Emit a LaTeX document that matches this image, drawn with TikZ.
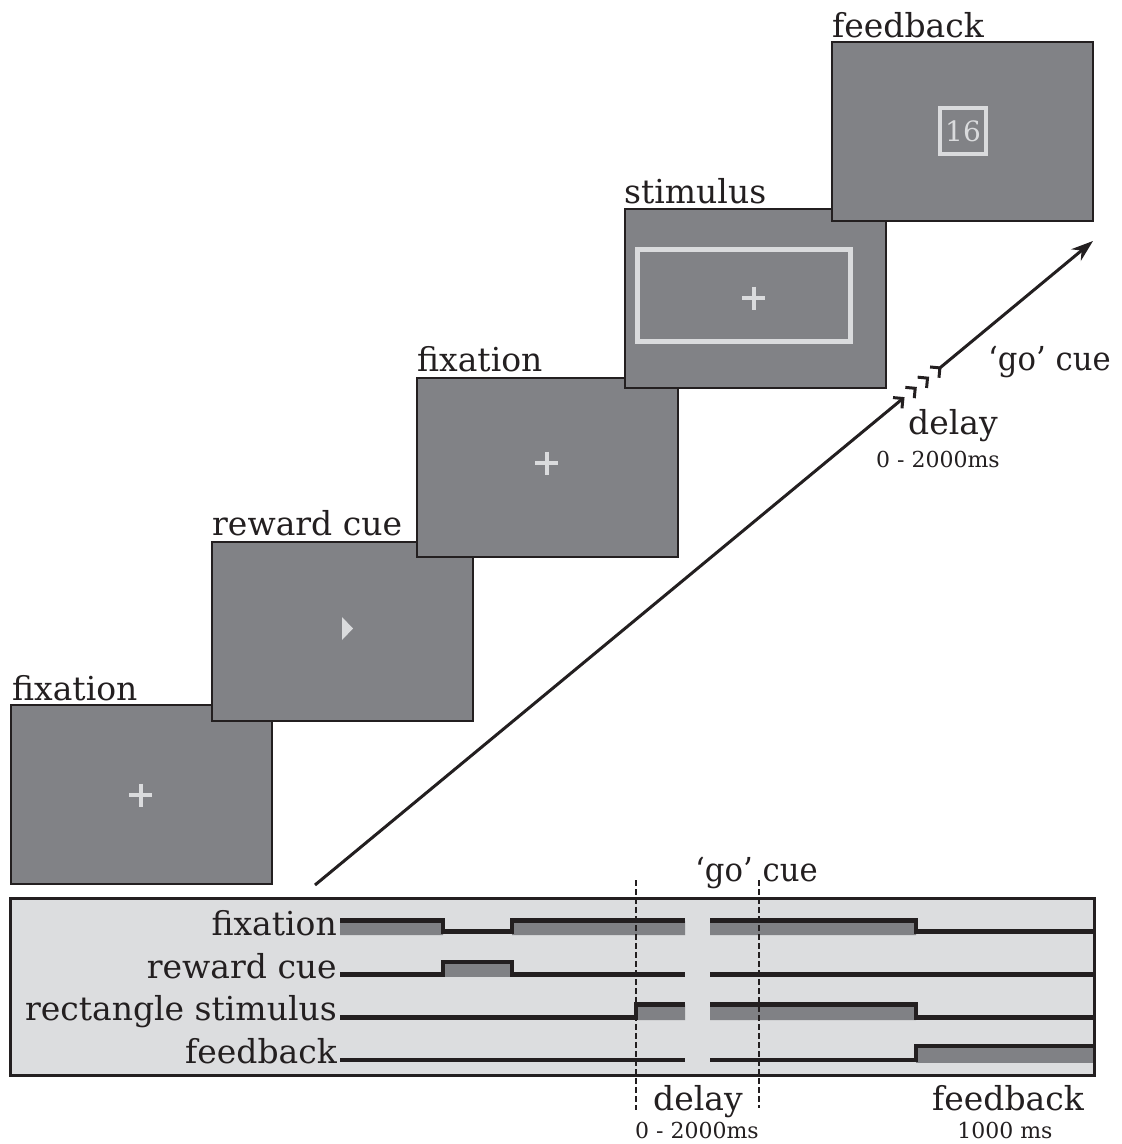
\documentclass[tikz,border=0pt]{standalone}
\usepackage{fontspec}
\setmainfont{DejaVu Serif}
\usetikzlibrary{arrows.meta}
\definecolor{scr}{RGB}{129,130,134}
\definecolor{lite}{RGB}{218,219,221}
\definecolor{panelc}{RGB}{220,221,223}
\definecolor{ink}{RGB}{35,31,32}
\definecolor{sig}{RGB}{128,129,133}
\newcommand{\fsL}{\fontsize{33}{38}\selectfont}
\newcommand{\fsM}{\fontsize{28}{32}\selectfont}
\newcommand{\fsS}{\fontsize{22}{26}\selectfont}
\newcommand{\gocue}{\scalebox{0.93}[1]{‘go’ cue}}
\begin{document}
\begin{tikzpicture}[x=1pt,y=-1pt,
  screen/.style={draw=ink, line width=1.5pt, fill=scr, minimum width=261pt, minimum height=179pt, anchor=north west, inner sep=0pt},
  lbl/.style={anchor=base west, inner sep=0pt, text=ink, font=\fsL},
  rlbl/.style={anchor=base east, inner sep=0pt, text=ink, font=\fsL},
  small/.style={anchor=base, inner sep=0pt, text=ink, font=\fsS},
  cross/.style={draw=lite, line width=4pt},
  sigline/.style={draw=ink, line width=4.5pt},
  dashline/.style={draw=ink, line width=1.5pt, dash pattern=on 6pt off 3pt},
  arrowline/.style={draw=ink, line width=3pt},
  chevron/.pic={\draw[ink, line width=3pt] (-7,-7) -- (0,0) -- (-7,7);}
]
\useasboundingbox (0,0) rectangle (1122,1144);

% screens
\node[screen] (s1) at (10,704) {};
\node[screen] (s2) at (211,541) {};
\node[screen] (s3) at (416,377) {};
\node[screen] (s4) at (624,208) {};
\node[screen] (s5) at (831,41) {};

\node[lbl] (l1) at (12,700) {fixation};
\node[lbl] (l2) at (212,535) {reward cue};
\node[lbl] (l3) at (417,371) {fixation};
\node[lbl] (l4) at (624,203) {stimulus};
\node[lbl] (l5) at (832,37) {feedback};

% screen contents
\draw[cross] (129,795) -- (152,795) (140.5,783.5) -- (140.5,806.5);
\fill[lite] (342,617) -- (342,640) -- (353,628.5) -- cycle;
\draw[cross] (535,463) -- (558,463) (546.5,451.5) -- (546.5,474.5);
\draw[lite, line width=5pt] (637,249) rectangle (850,341);
\draw[cross] (742,298) -- (765,298) (753.5,286.5) -- (753.5,309.5);
\node[draw=lite, line width=4pt, minimum size=46pt, inner sep=0pt, text=lite, font=\fsM] (fbnum) at (963,131) {16};

% time arrow
\coordinate (a0) at (315,885);
\coordinate (a1) at (902.9,398.5);
\coordinate (c2) at (915.2,388.3);
\coordinate (c3) at (927.5,378.1);
\coordinate (c4) at (939.9,367.9);
\coordinate (a2) at (1093,241);
\draw[arrowline] (a0) -- (a1);
\path (a1) pic[rotate=39.6]{chevron};
\path (c2) pic[rotate=39.6]{chevron};
\path (c3) pic[rotate=39.6]{chevron};
\path (c4) pic[rotate=39.6]{chevron};
\draw[arrowline, -{Stealth[length=22pt,width=15pt]}] (c4) -- (a2);

\node[lbl] (go1) at (988,370) {\gocue};
\node[lbl] (dl1) at (908,434) {delay};
\node[small] (dt1) at (938,467) {0 - 2000ms};

% timeline panel
\draw[line width=3pt, draw=ink, fill=panelc] (10,898) rectangle (1094,1075);
\node[rlbl] (r1) at (337,935) {fixation};
\node[rlbl] (r2) at (337,978) {reward cue};
\node[rlbl] (r3) at (337,1020) {rectangle stimulus};
\node[rlbl] (r4) at (337,1063) {feedback};

% fixation row
\fill[sig] (340,921) rectangle (443,935) (512,921) rectangle (685,935) (710,921) rectangle (916,935);
\draw[sigline] (340,920.5) -- (443,920.5) -- (443,931.5) -- (512,931.5) -- (512,920.5) -- (685,920.5);
\draw[sigline] (710,920.5) -- (916,920.5) -- (916,931.5) -- (1093,931.5);
% reward row
\fill[sig] (443,962) rectangle (512,977);
\draw[sigline] (340,974.5) -- (443,974.5) -- (443,962) -- (512,962) -- (512,974.5) -- (685,974.5);
\draw[sigline] (710,974.5) -- (1093,974.5);
% rectangle row
\fill[sig] (636,1004.5) rectangle (685,1020) (710,1004.5) rectangle (916,1020);
\draw[sigline] (340,1017.5) -- (636,1017.5) -- (636,1004.5) -- (685,1004.5);
\draw[sigline] (710,1004.5) -- (916,1004.5) -- (916,1017.5) -- (1093,1017.5);
% feedback row
\fill[sig] (916,1046) rectangle (1093,1063);
\draw[sigline] (340,1060) -- (685,1060);
\draw[sigline] (710,1060) -- (916,1060) -- (916,1046) -- (1093,1046);

% dashed markers
\coordinate (d1t) at (636,880);
\coordinate (d1b) at (636,1110);
\coordinate (d2t) at (759,880);
\coordinate (d2b) at (759,1108);
\draw[dashline] (d1t) -- (d1b);
\draw[dashline] (d2t) -- (d2b);

\node[lbl] (go2) at (695,881) {\gocue};
\node[lbl] (dl2) at (653,1110) {delay};
\node[small] (dt2) at (697,1138) {0 - 2000ms};
\node[lbl] (fb2) at (932,1110) {feedback};
\node[small] (ft2) at (1005,1138) {1000 ms};
\end{tikzpicture}
\end{document}
